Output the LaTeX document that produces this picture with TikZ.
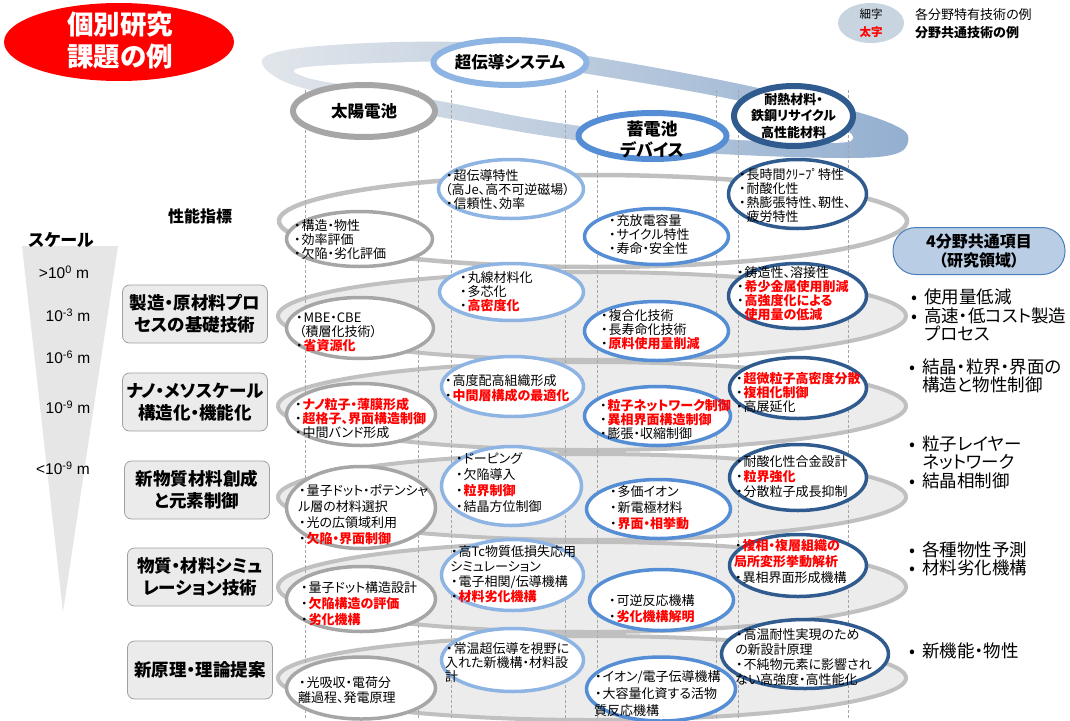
\documentclass[tikz,border=0pt]{standalone}
\usepackage{fontspec}
\setmainfont{Noto Sans CJK JP}[RawFeature=+palt]
\newfontfamily\arialf{Liberation Sans}
\usetikzlibrary{shapes.geometric}
\definecolor{grayA}{HTML}{A6A6A6}
\definecolor{blueB}{HTML}{8DB4E2}
\definecolor{blueC}{HTML}{558ED5}
\definecolor{blueD}{HTML}{2F5B8F}
\definecolor{ringgray}{HTML}{C0C0C0}
\definecolor{ringfill}{HTML}{ECECEC}
\definecolor{labgray}{HTML}{A0A0A0}
\definecolor{labfill}{HTML}{EBEBEB}
\definecolor{ribL}{HTML}{E2E6EB}
\definecolor{ribR}{HTML}{93AFD0}
\definecolor{pillfill}{HTML}{B9CDE5}
\definecolor{pilldraw}{HTML}{4A7EBB}
\definecolor{legfill}{HTML}{C8D4DF}
\definecolor{trifill}{HTML}{E6E6E6}
\definecolor{hotred}{HTML}{FF0000}
\newcommand\redt[1]{\textcolor{hotred}{\bfseries #1}}
\newcommand\bu{\makebox[0.65em][c]{・}}
\newcommand\bl{\makebox[0.75em][l]{•}}
\tikzset{
  ov/.style={ellipse, fill=white, line width=3.5pt, inner sep=0pt},
  ovA/.style={ov, draw=grayA},
  ovB/.style={ov, draw=blueB},
  ovC/.style={ov, draw=blueC},
  ovD/.style={ov, draw=blueD},
  hov/.style={ellipse, fill=white, line width=6pt, inner sep=0pt},
  ringbox/.style={ellipse, draw=ringgray, line width=4pt, fill=ringfill, inner sep=0pt, minimum width=628pt},
  tx/.style={anchor=west, align=left, inner sep=0pt, font=\fontsize{13}{15}\selectfont},
  txs/.style={tx, font=\fontsize{13}{14}\selectfont},
  tx4/.style={tx, font=\fontsize{13}{16}\selectfont},
  hd/.style={align=center, inner sep=0pt, font=\bfseries\fontsize{16.5}{21}\selectfont},
  lab/.style={rounded corners=7pt, draw=labgray, fill=labfill, line width=0.8pt, minimum width=145pt, minimum height=58pt, align=center, inner sep=0pt, font=\bfseries\fontsize{17.5}{22}\selectfont},
  rt/.style={anchor=west, align=left, inner sep=0pt, font=\fontsize{17.5}{18.5}\selectfont},
  sc/.style={inner sep=0pt, font=\arialf\fontsize{15.5}{17}\selectfont},
  guide/.style={draw=gray!70, line width=0.5pt, dash pattern=on 3pt off 2pt},
}
\begin{document}
\begin{tikzpicture}[x=1pt,y=-1pt]
\useasboundingbox (0,0) rectangle (1070,720);
% top-left title
\node[ellipse, fill=hotred, minimum width=230pt, minimum height=78pt, inner sep=0pt] (title) at (119,42) {};
\node[align=center, text=white, inner sep=0pt, font=\bfseries\fontsize{26.5}{32}\selectfont] (titlet) at (120,41) {個別研究\\課題の例};
% legend
\node[ellipse, fill=legfill, minimum width=66pt, minimum height=40pt, inner sep=0pt] (leg) at (871,23) {};
\node[inner sep=0pt, font=\fontsize{11.5}{13}\selectfont] (leg1) at (871,14) {細字};
\node[inner sep=0pt, font=\fontsize{11.5}{13}\selectfont] (leg2) at (871,32) {\redt{太字}};
\node[anchor=west, inner sep=0pt, font=\fontsize{13}{14}\selectfont] (leg3) at (915,15) {各分野特有技術の例};
\node[anchor=west, inner sep=0pt, font=\bfseries\fontsize{13}{14}\selectfont] (leg4) at (915,33) {分野共通技術の例};
% ribbon
\shade[left color=ribL, right color=ribR] plot[smooth cycle, tension=0.6] coordinates {(262,60) (300,48) (400,42) (500,44) (600,58) (735,83) (850,110) (900,128) (908,142) (895,154) (850,158) (740,155) (640,148) (540,135) (440,117) (350,99) (285,82)};
\fill[white] plot[smooth cycle, tension=0.6] coordinates {(300,68) (380,63) (500,62) (600,76) (735,100) (835,126) (852,140) (820,143) (740,140) (640,133) (540,120) (440,101) (350,86) (305,77)};
% scale
\fill[trifill] (22,246) -- (118,246) -- (63,612) -- cycle;
\node[inner sep=0pt, font=\bfseries\fontsize{17}{18}\selectfont] (scl) at (61,240) {スケール};
\node[sc] (s0) at (64,272) {>10\textsuperscript{0} m};
\node[sc] (s3) at (68,315) {10\textsuperscript{-3} m};
\node[sc] (s6) at (68,357) {10\textsuperscript{-6} m};
\node[sc] (s9) at (68,407) {10\textsuperscript{-9} m};
\node[sc] (s10) at (63,468) {<10\textsuperscript{-9} m};
% left labels
\node[inner sep=0pt, font=\bfseries\fontsize{16}{18}\selectfont] (perf) at (200,216) {性能指標};
\node[lab] (L2) at (195,314) {製造・原材料プロ\\セスの基礎技術};
\node[lab] (L3) at (195,402) {ナノ・メソスケール\\構造化・機能化};
\node[lab] (L4) at (197,490) {新物質材料創成\\と元素制御};
\node[lab] (L5) at (200,577) {物質・材料シミュ\\レーション技術};
\node[lab] (L6) at (200,670) {新原理・理論提案};
% rings
\node[ellipse, draw=ringgray, line width=4.5pt, inner sep=0pt, minimum width=628pt, minimum height=92pt] (R1) at (593,221) {};
\node[ringbox, minimum height=88pt] (R2) at (592,316) {};
\node[ringbox, minimum height=88pt] (R3) at (592,406) {};
\node[ringbox, minimum height=86pt] (R4) at (592,497) {};
\node[ringbox, minimum height=90pt] (R5) at (592,587) {};
\node[ringbox, minimum height=84pt] (R6) at (592,678) {};
% guides
\foreach \gx in {305,418,451,565,597,716,738,848}
  \draw[guide] (\gx,90) -- (\gx,720);
% header ovals
\node[hov, draw=grayA, minimum width=142pt, minimum height=52pt] (hA) at (364,111) {};
\node[hd] (hAt) at (hA) {太陽電池};
\node[hov, draw=blueB, minimum width=153pt, minimum height=45pt] (hB) at (510,62.5) {};
\node[hd] (hBt) at (hB) {超伝導システム};
\node[hov, draw=blueC, minimum width=148pt, minimum height=46pt] (hC) at (652.5,136) {};
\node[hd, font=\bfseries\fontsize{17}{21}\selectfont] (hCt) at (652,139) {蓄電池\\デバイス};
\node[hov, draw=blueD, minimum width=119pt, minimum height=60pt] (hD) at (793.5,116) {};
\node[hd, font=\bfseries\fontsize{13}{16.5}\selectfont] (hDt) at (hD) {耐熱材料・\\鉄鋼リサイクル\\高性能材料};
% row 1
\node[ovA, minimum width=146pt, minimum height=55pt] (o1A) at (359.5,239) {};
\node[txs] (t1A) at (293,240) {\bu 構造・物性\\\bu 効率評価\\\bu 欠陥・劣化評価};
\node[ovB, minimum width=145pt, minimum height=59pt] (o1B) at (511,189) {};
\node[txs] (t1B) at (445,190) {\bu 超伝導特性\\（高Je、高不可逆磁場）\\\bu 信頼性、効率};
\node[ovC, minimum width=144pt, minimum height=56pt] (o1C) at (656.5,236.5) {};
\node[txs] (t1C) at (608,235) {\bu 充放電容量\\\bu サイクル特性\\\bu 寿命・安全性};
\node[ovD, minimum width=138pt, minimum height=69pt] (o1D) at (797.5,194) {};
\node[txs] (t1D) at (738,196) {\bu 長時間ｸﾘｰﾌﾟ特性\\\bu 耐酸化性\\\bu 熱膨張特性、靭性、\\\hspace*{0.65em}疲労特性};
% row 2
\node[ovA, minimum width=147pt, minimum height=61pt] (o2A) at (360,328) {};
\node[txs] (t2A) at (295,332) {\bu MBE・CBE\\\hspace*{0.3em}（積層化技術）\\\bu\redt{省資源化}};
\node[ovB, minimum width=144pt, minimum height=57pt] (o2B) at (511.5,292) {};
\node[txs] (t2B) at (459,292) {\bu 丸線材料化\\\bu 多芯化\\\bu\redt{高密度化}};
\node[ovC, minimum width=144pt, minimum height=59pt] (o2C) at (656.5,331) {};
\node[txs] (t2C) at (600,330) {\bu 複合化技術\\\bu 長寿命化技術\\\bu\redt{原料使用量削減}};
\node[ovD, minimum width=138pt, minimum height=65pt] (o2D) at (797.5,296) {};
\node[txs] (t2D) at (736,294) {\bu 鋳造性、溶接性\\\bu\redt{希少金属使用削減}\\\bu\redt{高強度化による}\\\hspace*{0.65em}\redt{使用量の低減}};
% row 3
\node[ovA, minimum width=149pt, minimum height=62pt] (o3A) at (361,414.5) {};
\node[txs] (t3A) at (294,418) {\bu\redt{ナノ粒子・薄膜形成}\\\bu\redt{超格子、界面構造制御}\\\bu 中間バンド形成};
\node[ovB, minimum width=142pt, minimum height=60pt] (o3B) at (512.5,386.5) {};
\node[tx] (t3B) at (444,388) {\bu 高度配高組織形成\\\bu\redt{中間層構成の最適化}};
\node[ovC, minimum width=146pt, minimum height=59pt] (o3C) at (657.5,416) {};
\node[txs] (t3C) at (599,419) {\bu\redt{粒子ネットワーク制御}\\\bu\redt{異相界面構造制御}\\\bu 膨張・収縮制御};
\node[ovD, minimum width=137pt, minimum height=61pt] (o3D) at (798,388) {};
\node[txs] (t3D) at (735,392) {\bu\redt{超微粒子高密度分散}\\\bu\redt{複相化制御}\\\bu 高展延化};
% row 4
\node[ovA, minimum width=149pt, minimum height=82pt] (o4A) at (361,507.5) {};
\node[tx4] (t4A) at (298,515) {\bu 量子ドット・ポテンシャ\\ル層の材料選択\\\bu 光の広領域利用\\\bu\redt{欠陥・界面制御}};
\node[ovB, minimum width=140pt, minimum height=79pt] (o4B) at (511.5,486) {};
\node[tx4] (t4B) at (455,483) {\bu ドーピング\\\bu 欠陥導入\\\bu\redt{粒界制御}\\\bu 結晶方位制御};
\node[ovC, minimum width=144pt, minimum height=59pt] (o4C) at (658.5,509) {};
\node[tx4] (t4C) at (609,508) {\bu 多価イオン\\\bu 新電極材料\\\bu\redt{界面・相挙動}};
\node[ovD, minimum width=137pt, minimum height=66pt] (o4D) at (798,477.5) {};
\node[tx] (t4D) at (735,477) {\bu 耐酸化性合金設計\\\bu\redt{粒界強化}\\\bu 分散粒子成長抑制};
% row 5
\node[ovA, minimum width=149pt, minimum height=65pt] (o5A) at (361,599) {};
\node[tx4] (t5A) at (300,604) {\bu 量子ドット構造設計\\\bu\redt{欠陥構造の評価}\\\bu\redt{劣化機構}};
\node[ovB, minimum width=142pt, minimum height=71pt] (o5B) at (512.5,575) {};
\node[tx] (t5B) at (450,574) {\bu 高Tc物質低損失応用\\シミュレーション\\\bu 電子相関/伝導機構\\\bu\redt{材料劣化機構}};
\node[ovC, minimum width=144pt, minimum height=61pt] (o5C) at (661.5,600) {};
\node[tx4] (t5C) at (608,609) {\bu 可逆反応機構\\\bu\redt{劣化機構解明}};
\node[ovD, minimum width=137pt, minimum height=62pt] (o5D) at (798,565.5) {};
\node[tx4] (t5D) at (734,561) {\bu\redt{複相・複層組織の}\\\redt{局所変形挙動解析}\\\bu 異相界面形成機構};
% row 6
\node[ovA, minimum width=149pt, minimum height=62pt] (o6A) at (361,688) {};
\node[tx] (t6A) at (298,690) {\bu 光吸収・電荷分\\離過程、発電原理};
\node[ovB, minimum width=142pt, minimum height=63pt] (o6B) at (512.5,660) {};
\node[txs] (t6B) at (445,663) {\bu 常温超伝導を視野に\\入れた新機構・材料設\\計};
\node[ovC, minimum width=149pt, minimum height=64pt] (o6C) at (661,689) {};
\node[tx, font=\fontsize{13}{17}\selectfont] (t6C) at (594,694) {\bu イオン/電子伝導機構\\\bu 大容量化資する活物\\質反応機構};
\node[ovD, minimum width=167pt, minimum height=69pt] (o6D) at (805,654) {};
\node[tx] (t6D) at (735,657) {\bu 高温耐性実現のため\\の新設計原理\\\bu 不純物元素に影響され\\ない高強度・高性能化};
% right column
\node[rounded corners=23pt, draw=pilldraw, fill=pillfill, line width=1pt, minimum width=172pt, minimum height=47pt, align=center, inner sep=0pt, font=\bfseries\fontsize{16}{19}\selectfont] (pill) at (979,251) {4分野共通項目\\（研究領域）};
\node[rt] (r2) at (911,315) {\bl 使用量低減\\\bl 高速・低コスト製造\\\hspace*{0.75em}プロセス};
\node[rt] (r3) at (909,376) {\bl 結晶・粒界・界面の\\\hspace*{0.75em}構造と物性制御};
\node[rt] (r4) at (909,462) {\bl 粒子レイヤー\\\hspace*{0.75em}ネットワーク\\\bl 結晶相制御};
\node[rt] (r5) at (909,559) {\bl 各種物性予測\\\bl 材料劣化機構};
\node[rt] (r6) at (909,651) {\bl 新機能・物性};
\end{tikzpicture}
\end{document}
